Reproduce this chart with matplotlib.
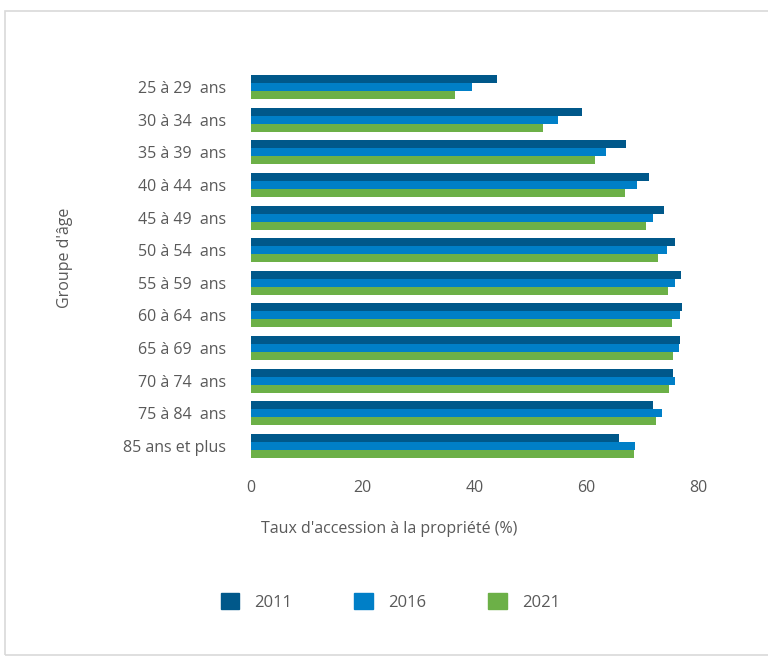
import matplotlib.pyplot as plt
from matplotlib.patches import Patch, Rectangle
import numpy as np

plt.rcParams['font.family'] = ['Open Sans', 'DejaVu Sans']

groupes = ['25 à 29  ans', '30 à 34  ans', '35 à 39  ans', '40 à 44  ans',
           '45 à 49  ans', '50 à 54  ans', '55 à 59  ans', '60 à 64  ans',
           '65 à 69  ans', '70 à 74  ans', '75 à 84  ans', '85 ans et plus']
annees = ['2011', '2016', '2021']
taux_2011 = [44.1, 59.2, 67.1, 71.2, 73.9, 75.8, 77.0, 77.2, 76.8, 75.5, 72.0, 65.8]
taux_2016 = [39.6, 55.0, 63.6, 69.1, 71.9, 74.5, 75.8, 76.8, 76.6, 75.8, 73.6, 68.7]
taux_2021 = [36.5, 52.3, 61.5, 66.9, 70.7, 72.9, 74.7, 75.4, 75.6, 74.8, 72.5, 68.5]
couleurs = ['#00588a', '#007fc7', '#6cb047']
gris = '#595959'

fig = plt.figure(figsize=(7.68, 6.6), dpi=100)
ax = fig.add_axes([0.3268, 0.2995, 0.5821, 0.5934])

# cadre gris clair autour du graphique
fig.patches.append(Rectangle((5 / 768, 5 / 660), 1.2, 644 / 660, transform=fig.transFigure,
                             fill=False, edgecolor='#d9d9d9', linewidth=1.2))

y = np.arange(len(groupes))
h = 0.245
for k, vals in enumerate([taux_2011, taux_2016, taux_2021]):
    ax.barh(y + (k - 1) * h, vals, height=h, color=couleurs[k])

ax.set_xlim(0, 80)
ax.set_ylim(len(groupes) - 0.5, -0.5)
ax.set_xticks([0, 20, 40, 60, 80])
ax.set_yticks(y)
ax.set_yticklabels(groupes)
ax.tick_params(length=0, labelcolor=gris, labelsize=11.5)
ax.tick_params(axis='y', pad=18)
ax.tick_params(axis='x', pad=13)
for s in ax.spines.values():
    s.set_visible(False)

ax.set_xlabel("Taux d'accession à la propriété (%)", color=gris, fontsize=11.5)
ax.xaxis.set_label_coords(0.309, -0.15)
fig.text(0.085, 0.61, "Groupe d'âge", rotation=90, color=gris, fontsize=11.5,
         ha='center', va='center')

handles = [Patch(color=c) for c in couleurs]
fig.legend(handles, annees, loc='center', bbox_to_anchor=(0.508, 0.088), ncol=3,
           frameon=False, fontsize=12, labelcolor=gris, handlelength=1.1,
           handleheight=1.1, handletextpad=0.9, columnspacing=3.75)

fig.savefig('out.png', dpi=100)
